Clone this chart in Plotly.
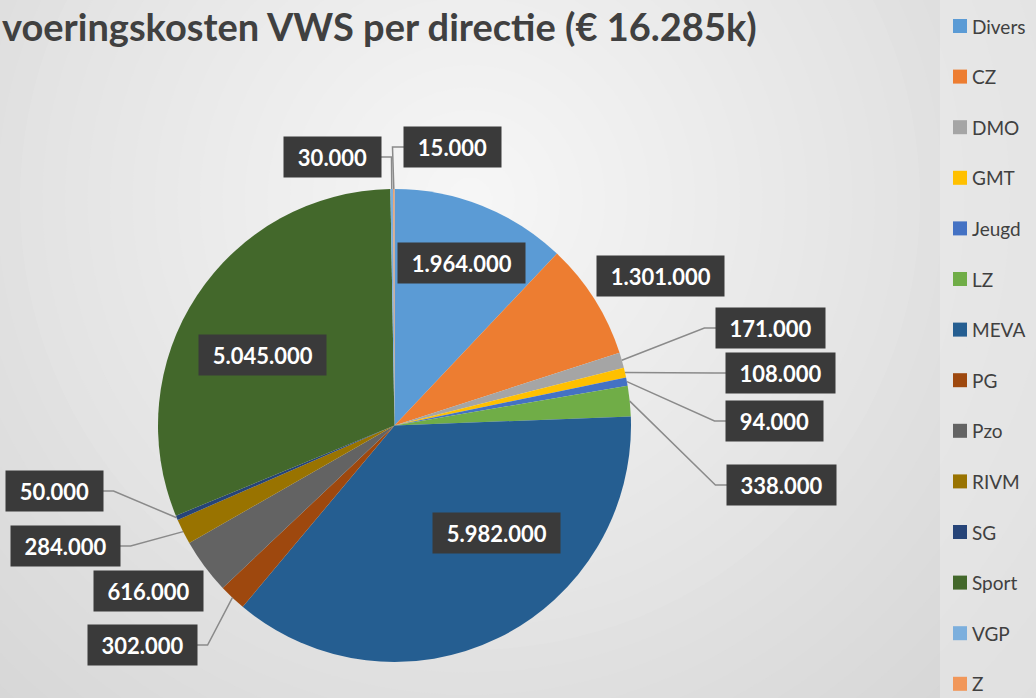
import math
import plotly.graph_objects as go

W, H = 1036, 698

labels = ["Divers", "CZ", "DMO", "GMT", "Jeugd", "LZ", "MEVA", "PG", "Pzo",
          "RIVM", "SG", "Sport", "VGP", "Z"]
values = [1964000, 1301000, 171000, 108000, 94000, 338000, 5982000, 302000,
          616000, 284000, 50000, 5045000, 30000, 15000]
colors = ["#5B9BD5", "#ED7D31", "#A5A5A5", "#FFC000", "#4472C4", "#70AD47",
          "#255E91", "#9E480E", "#636363", "#997300", "#264478", "#43682B",
          "#7CAFDD", "#F1975A"]
title_text = "voeringskosten VWS per directie (€ 16.285k)"

# label box centres (px) and which labels get a leader line
box_pos = {"Divers": (461, 263), "CZ": (660, 276), "DMO": (770, 328),
           "GMT": (780, 373), "Jeugd": (774, 421), "LZ": (781, 485),
           "MEVA": (496, 533), "PG": (142, 645), "Pzo": (148, 591),
           "RIVM": (65, 546), "SG": (54, 491), "Sport": (262, 355),
           "VGP": (332, 157), "Z": (452, 147)}
with_leader = {"DMO", "GMT", "Jeugd", "LZ", "PG", "RIVM", "SG", "VGP", "Z"}

CX, CY, R = 394.5, 425.5, 236.5
FONT = "Lato, Open Sans, sans-serif"


def px(x, y):
    return x / W, 1 - y / H


def fmt(v):
    return f"{v:,}".replace(",", ".")


fig = go.Figure()
fig.add_trace(go.Pie(
    labels=labels, values=values, sort=False, direction="clockwise", rotation=0,
    marker=dict(colors=colors, line=dict(width=0)),
    textinfo="none", hoverinfo="label+value", showlegend=False,
    domain=dict(x=[(CX - R) / W, (CX + R) / W], y=[1 - (CY + R) / H, 1 - (CY - R) / H]),
))

shapes, annots = [], []

# background: soft radial gradient
GX, GY = 470, 200
steps = 40
for i in range(steps):
    r = 900 * (1 - i / steps)
    c = round(0xCE + (0xF6 - 0xCE) * i / (steps - 1))
    x0, y0 = px(GX - r, GY + r)
    x1, y1 = px(GX + r, GY - r)
    shapes.append(dict(type="circle", xref="paper", yref="paper", x0=x0, y0=y0, x1=x1, y1=y1,
                       fillcolor=f"rgb({c},{c},{c})", line=dict(width=0), layer="below"))
# legend panel
shapes.append(dict(type="rect", xref="paper", yref="paper", x0=940 / W, x1=1, y0=0, y1=1,
                   fillcolor="rgba(240,240,240,0.45)", line=dict(width=0), layer="below"))

# value labels + leader lines
total = sum(values)
cum = 0
for name, v in zip(labels, values):
    theta = math.radians((cum + v / 2) / total * 360)
    cum += v
    bx, by = box_pos[name]
    text = fmt(v)
    bw = 12.2 * sum(ch.isdigit() for ch in text) + 6 * text.count(".") + 30
    if name in with_leader:
        tx, ty = CX + R * math.sin(theta), CY - R * math.cos(theta)
        side = 1 if bx > tx else -1
        kx = bx - side * (bw / 2 + 11)
        p = [px(tx, ty), px(kx, by), px(bx, by)]
        path = "M " + " L ".join(f"{a:.5f},{b:.5f}" for a, b in p)
        shapes.append(dict(type="path", xref="paper", yref="paper", path=path,
                           line=dict(color="#8A8A8A", width=1.5)))
    x, y = px(bx, by)
    annots.append(dict(x=x, y=y, xref="paper", yref="paper", text=f"<b>{text}</b>",
                       showarrow=False, bgcolor="#3A3A3A", borderpad=4,
                       xanchor="center", yanchor="middle",
                       width=bw - 8, height=32, align="center",
                       font=dict(family=FONT, size=22, color="white")))

# legend drawn manually to get the wide spacing
for i, (name, col) in enumerate(zip(labels, colors)):
    yc = 26 + 50.6 * i
    x0, y0 = px(953, yc + 7)
    x1, y1 = px(967, yc - 7)
    shapes.append(dict(type="rect", xref="paper", yref="paper", x0=x0, y0=y0, x1=x1, y1=y1,
                       fillcolor=col, line=dict(width=0)))
    xt, yt = px(970, yc)
    annots.append(dict(x=xt, y=yt, xref="paper", yref="paper", text=name, showarrow=False,
                       xanchor="left", yanchor="middle",
                       font=dict(family=FONT, size=19, color="#404040")))

# title
annots.append(dict(x=0, y=1 - 26 / H, xref="paper", yref="paper", text=f"<b>{title_text}</b>",
                   showarrow=False, xanchor="left", yanchor="middle",
                   font=dict(family=FONT, size=38, color="#404040")))

fig.update_layout(width=W, height=H, margin=dict(l=0, r=0, t=0, b=0),
                  paper_bgcolor="#CECECE", plot_bgcolor="rgba(0,0,0,0)",
                  shapes=shapes, annotations=annots, showlegend=False)

fig.write_html("out.html", config={"displayModeBar": False},
               post_script="document.body.style.margin='0';")
